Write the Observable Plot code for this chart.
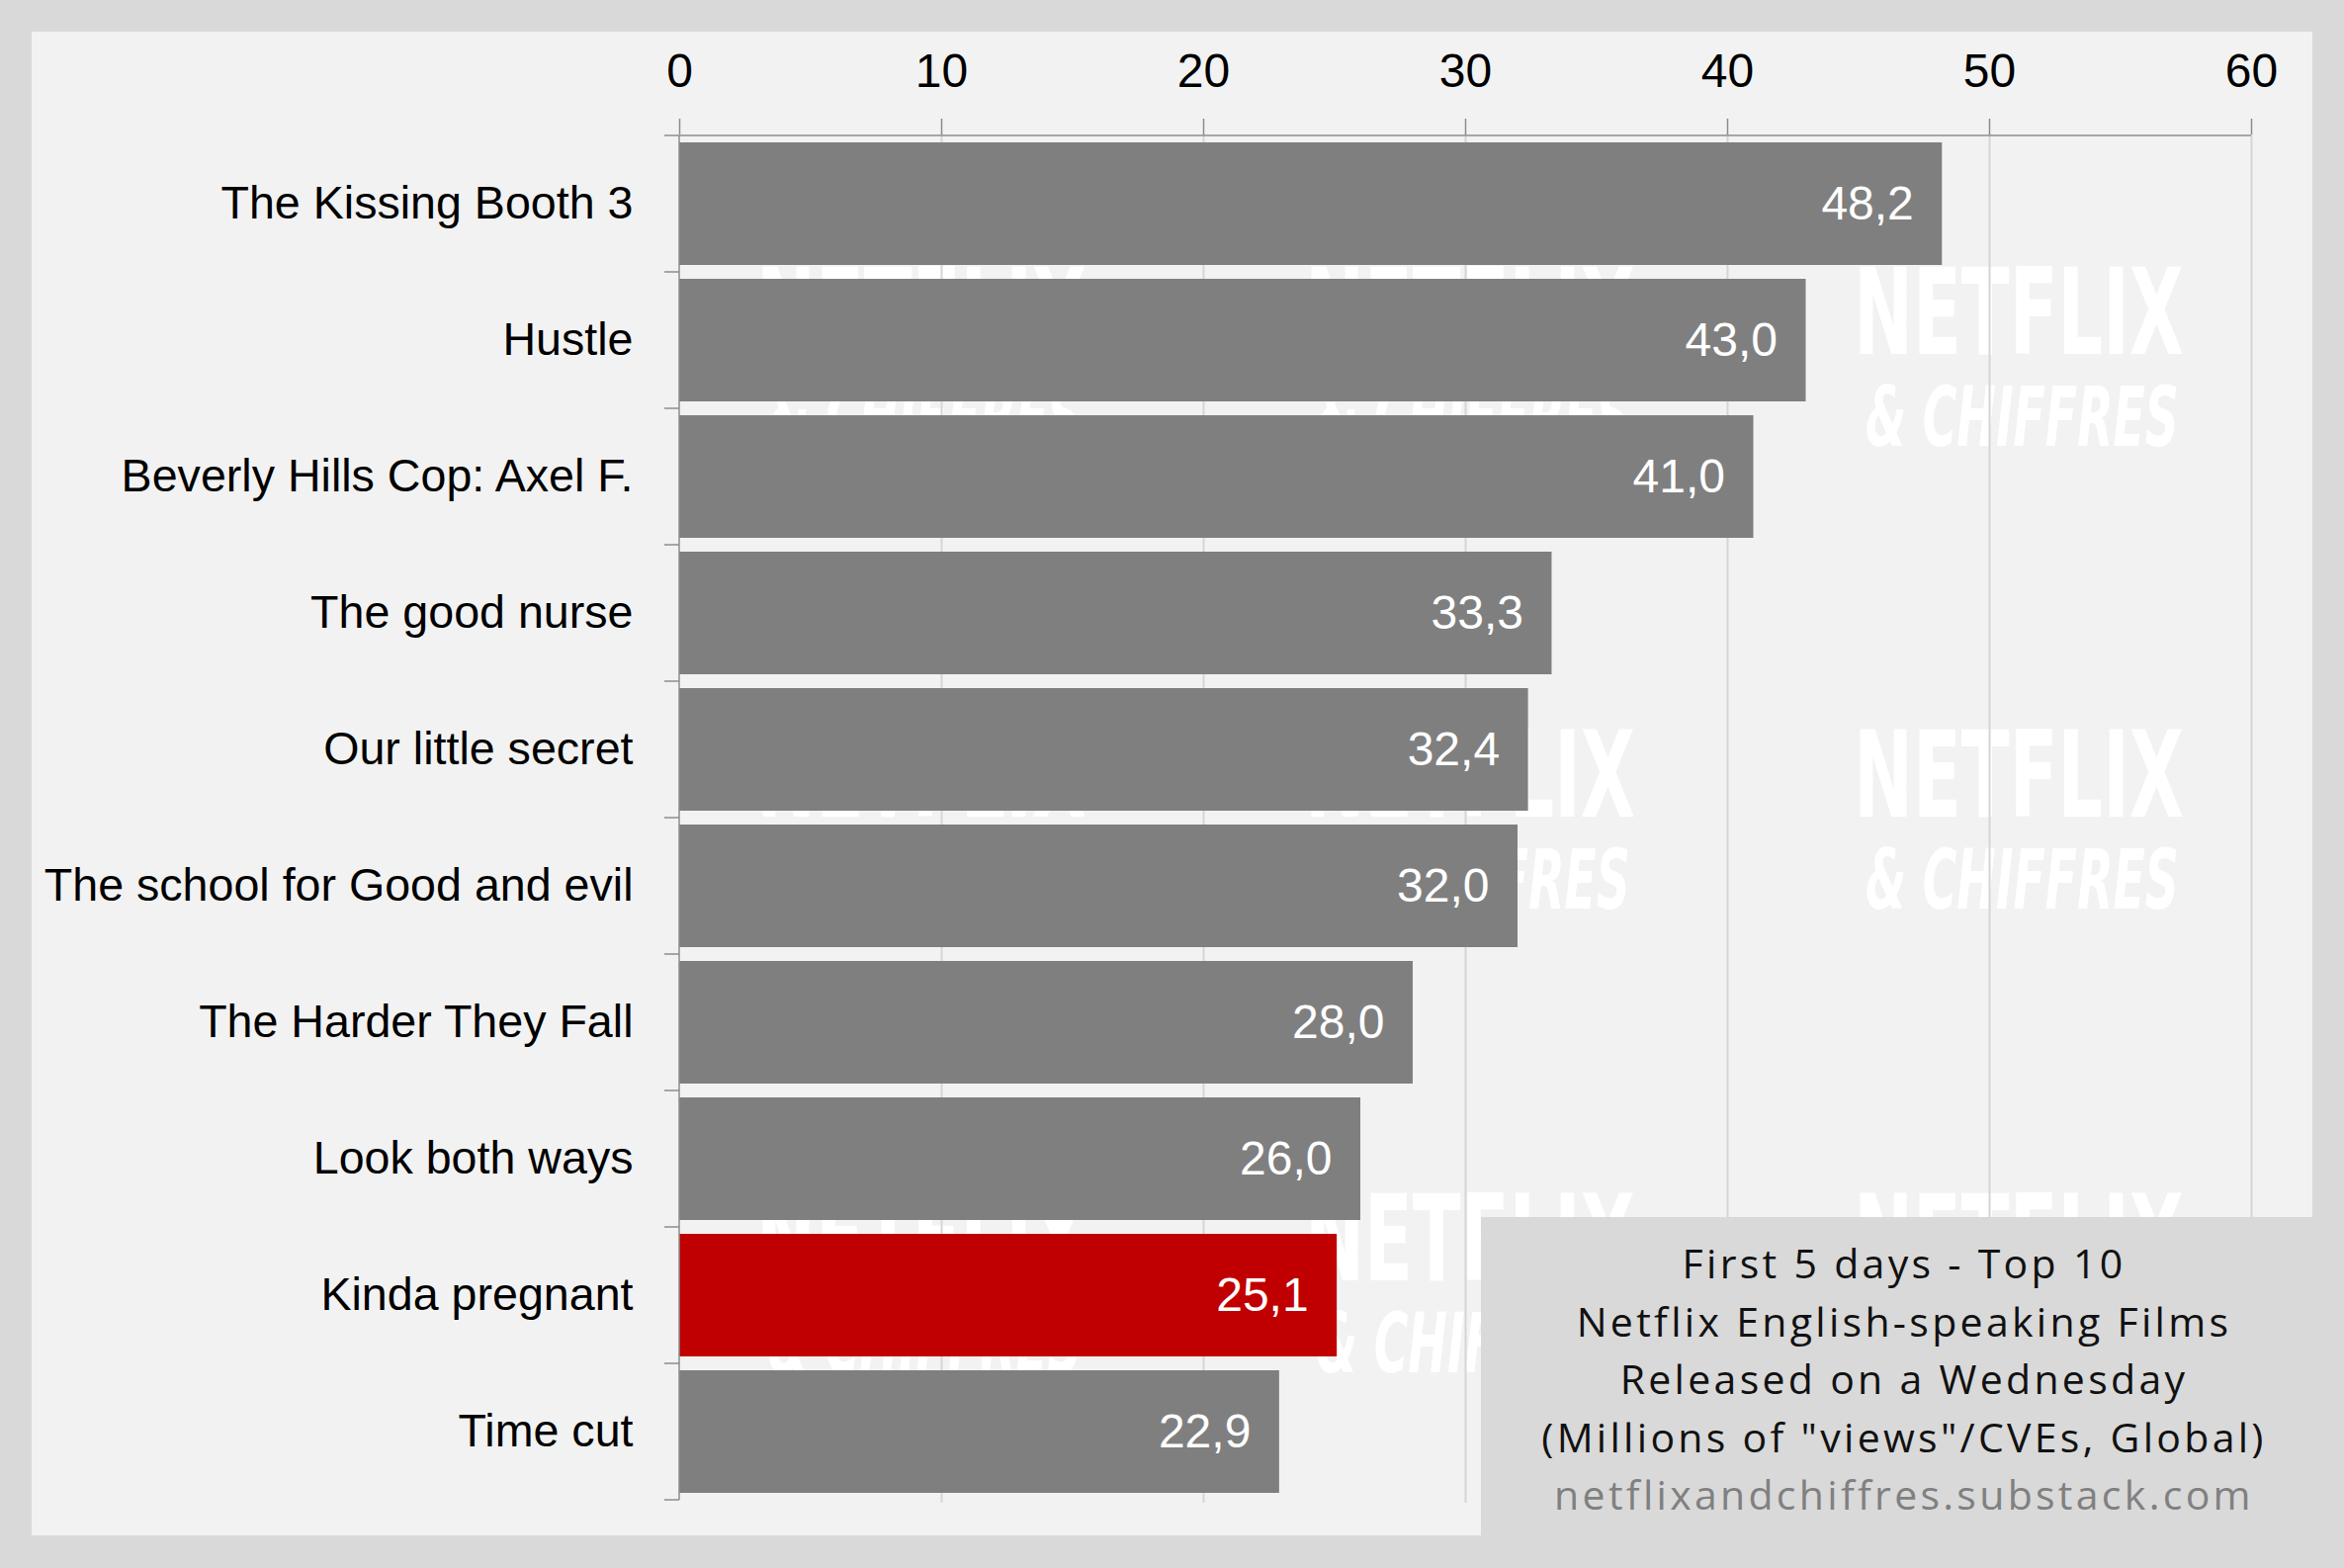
<!DOCTYPE html>
<html>
<head>
<meta charset="utf-8">
<script src="https://cdn.jsdelivr.net/npm/d3@7"></script>
<script src="https://cdn.jsdelivr.net/npm/@observablehq/plot@0.6"></script>
<style>
  html, body { margin: 0; padding: 0; background: #d9d9d9; width: 2371px; height: 1586px; overflow: hidden; }
  #panel { position: absolute; left: 32px; top: 32px; width: 2307px; height: 1521px; background: #f2f2f2; }
  #wm, #chart, #legendText { position: absolute; left: 0; top: 0; }
  #legendBox { position: absolute; left: 1498px; top: 1231px; right: 0; bottom: 0; background: #d9d9d9; }
</style>
</head>
<body>
<div id="panel"></div>
<svg id="wm" width="2371" height="1586"></svg>
<div id="chart"></div>
<div id="legendBox"></div>
<svg id="legendText" width="2371" height="1586"></svg>
<script>
// ---- data ----
const films = [
  "The Kissing Booth 3",
  "Hustle",
  "Beverly Hills Cop: Axel F.",
  "The good nurse",
  "Our little secret",
  "The school for Good and evil",
  "The Harder They Fall",
  "Look both ways",
  "Kinda pregnant",
  "Time cut"
];
const views = [48.2, 43.0, 41.0, 33.3, 32.4, 32.0, 28.0, 26.0, 25.1, 22.9];
const highlighted = ["Kinda pregnant"];
const xTicks = [0, 10, 20, 30, 40, 50, 60];
const legendLines = [
  "First 5 days - Top 10",
  "Netflix English-speaking Films",
  "Released on a Wednesday",
  "(Millions of \"views\"/CVEs, Global)"
];
const sourceLine = "netflixandchiffres.substack.com";

const GRAY = "#7f7f7f", RED = "#c00000", AXIS = "#8c8c8c";
const FONT = "'Liberation Sans', Arial, Helvetica, sans-serif";

const data = films.map((f, i) => ({
  film: f,
  value: views[i],
  group: highlighted.includes(f) ? "highlight" : "other"
}));

const fmt = v => v.toFixed(1).replace(".", ",");

// axis lines + band-boundary ticks on the category axis (drawn from the scales)
function axisDecor(index, scales) {
  const {x, y} = scales;
  const bw = y.bandwidth();
  const pos = films.map(f => y(f));
  const step = pos[1] - pos[0];
  const gap = (step - bw) / 2;
  const bounds = pos.map(p => p - gap).concat([pos[pos.length - 1] + bw + gap]);
  const x0 = x(xTicks[0]), x1 = x(xTicks[xTicks.length - 1]);
  const g = d3.create("svg:g").attr("stroke", AXIS).attr("stroke-width", 1.5).attr("fill", "none");
  g.append("line").attr("x1", x0).attr("x2", x1).attr("y1", bounds[0]).attr("y2", bounds[0]);
  g.append("line").attr("x1", x0).attr("x2", x0).attr("y1", bounds[0]).attr("y2", bounds[bounds.length - 1]);
  for (const b of bounds) g.append("line").attr("x1", x0 - 15).attr("x2", x0).attr("y1", b).attr("y2", b);
  return g.node();
}

const chart = Plot.plot({
  width: 2371,
  height: 1586,
  marginLeft: 687,
  marginRight: 94,
  marginTop: 135,
  marginBottom: 66,
  style: {background: "transparent", fontFamily: FONT},
  x: {domain: [xTicks[0], xTicks[xTicks.length - 1]]},
  y: {domain: films, paddingInner: 0.1, paddingOuter: 0.05, align: 0.5},
  color: {domain: ["other", "highlight"], range: [GRAY, RED]},
  marks: [
    Plot.gridX(xTicks.slice(1), {stroke: "#d5d5d5", strokeOpacity: 1, strokeWidth: 2}),
    Plot.barX(data, {x: "value", y: "film", fill: "group"}),
    Plot.axisX({anchor: "top", ticks: xTicks, tickSize: 16, tickPadding: 32, fontSize: 48,
                stroke: AXIS, strokeWidth: 1.5, fill: "black", label: null}),
    Plot.axisY({tickSize: 0, tickPadding: 47, fontSize: 46.6, fill: "black", label: null}),
    axisDecor,
    Plot.text(data, {x: "value", y: "film", text: d => fmt(d.value), textAnchor: "end",
                     dx: -29, fill: "white", fontSize: 48})
  ]
});
document.getElementById("chart").appendChild(chart);

// ---- watermark (decoration behind the bars) ----
const wm = d3.select("#wm");
const colLefts = [765, 1320, 1875];
const rowTops = [270, 738, 1207];
function wmText(str, x, y, size, width, italic) {
  const t = wm.append("text").attr("x", 0).attr("y", 0)
    .attr("font-family", "'DejaVu Sans Condensed', 'DejaVu Sans', sans-serif")
    .attr("font-weight", "bold").attr("font-style", italic ? "italic" : "normal")
    .attr("font-size", size).attr("fill", "#ffffff").text(str);
  const natural = t.node().getComputedTextLength() || width;
  t.attr("transform", `translate(${x},${y}) scale(${width / natural},1)`);
}
for (const t of rowTops) {
  for (const l of colLefts) {
    wmText("NETFLIX", l, t + 88, 121, 334, false);
    wmText("& CHIFFRES", l + 12, t + 181, 84, 317, true);
  }
}

// ---- legend / caption box ----
const lt = d3.select("#legendText");
const cx = 1926, base0 = 1293, lh = 58.5;
legendLines.concat([sourceLine]).forEach((s, i) => {
  lt.append("text").attr("x", cx).attr("y", base0 + i * lh)
    .attr("text-anchor", "middle")
    .attr("font-family", "'Open Sans', sans-serif")
    .attr("font-size", 41).attr("letter-spacing", "3.3px")
    .attr("fill", i < legendLines.length ? "#111" : "#808080")
    .text(s);
});
</script>
</body>
</html>
